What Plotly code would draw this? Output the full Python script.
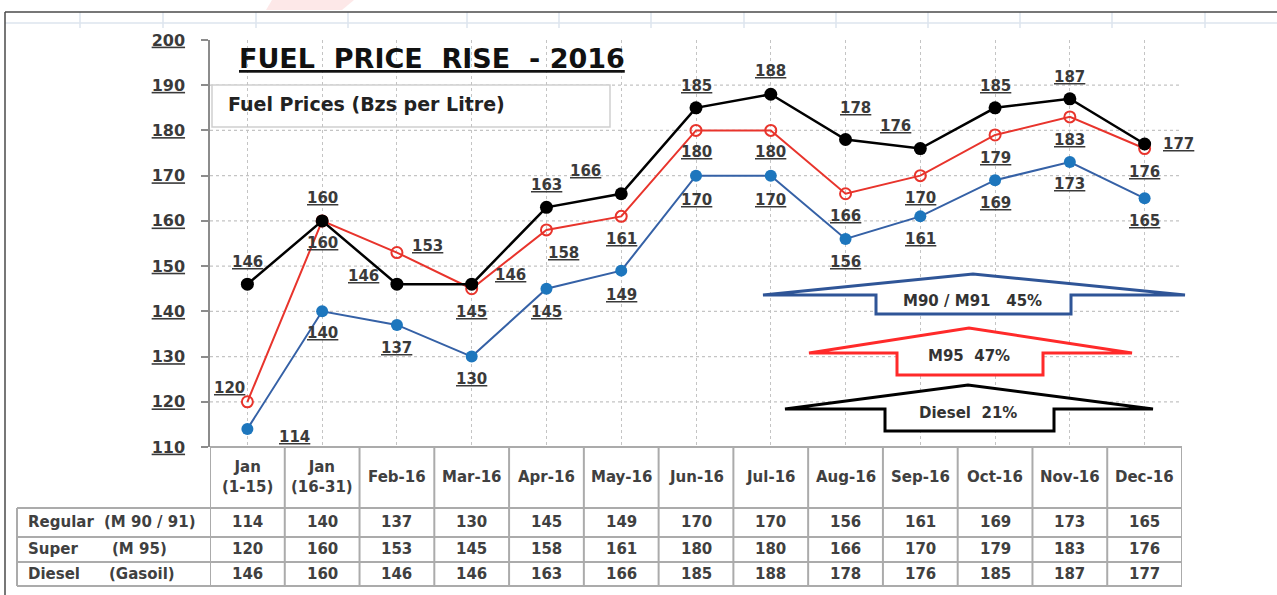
import plotly.graph_objects as go

# ---------------- data ----------------
categories = ["Jan<br>(1-15)", "Jan<br>(16-31)", "Feb-16", "Mar-16", "Apr-16", "May-16",
              "Jun-16", "Jul-16", "Aug-16", "Sep-16", "Oct-16", "Nov-16", "Dec-16"]
regular = [114, 140, 137, 130, 145, 149, 170, 170, 156, 161, 169, 173, 165]
super95 = [120, 160, 153, 145, 158, 161, 180, 180, 166, 170, 179, 183, 176]
diesel = [146, 160, 146, 146, 163, 166, 185, 188, 178, 176, 185, 187, 177]
series_names = ["Regular", "Super", "Diesel"]
series_codes = ["(M 90 / 91)", "(M 95)", "(Gasoil)"]
y_ticks = [110, 120, 130, 140, 150, 160, 170, 180, 190, 200]
title_text = "FUEL  PRICE  RISE  - 2016"
subtitle_text = "Fuel Prices (Bzs per Litre)"
rise_labels = ["M90 / M91   45%", "M95  47%", "Diesel  21%"]

# ---------------- label offsets (pixels: dx right, dy down) ----------------
off_regular = [(47, 8), (0, 22), (0, 23), (0, 22), (0, 23), (0, 24), (0, 24),
               (0, 24), (0, 23), (0, 23), (0, 23), (0, 22), (0, 23)]
off_super = [(-18, -14), (0, 22), (31, -7), (0, 23), (17, 23), (0, 23), (0, 22),
             (0, 22), (0, 22), (0, 22), (0, 23), (0, 23), (0, 23)]
off_diesel = [(0, -22), (0, -23), (-33, -8), (39, -9), (0, -22), (-36, -23), (0, -22),
              (0, -23), (10, -31), (-25, -23), (0, -22), (0, -22), (34, 0)]

FONT = "DejaVu Sans"
W, H = 1277, 595
L, R, T, B = 210, 1182, 40, 447


def px(xp):
    return (xp - L) / (R - L)


def py(yp):
    return (B - yp) / (B - T)


xs = list(range(len(categories)))

fig = go.Figure()
fig.add_trace(go.Scatter(x=xs, y=regular, mode="lines+markers", name=series_names[0],
                         line=dict(color="#3561a6", width=2),
                         marker=dict(color="#1d76bd", size=12)))
fig.add_trace(go.Scatter(x=xs, y=super95, mode="lines+markers", name=series_names[1],
                         line=dict(color="#e8342c", width=2),
                         marker=dict(symbol="circle-open", color="#e8342c", size=11,
                                     line=dict(width=2, color="#e8342c"))))
fig.add_trace(go.Scatter(x=xs, y=diesel, mode="lines+markers", name=series_names[2],
                         line=dict(color="#000000", width=2.5),
                         marker=dict(color="#000000", size=13)))

annotations = []
label_font = dict(family=FONT, size=15, color="#3a3a3a")
for vals, offs in ((regular, off_regular), (super95, off_super), (diesel, off_diesel)):
    for i, (v, (dx, dy)) in enumerate(zip(vals, offs)):
        annotations.append(dict(x=i, y=v, xref="x", yref="y", text=f"<b><u>{v}</u></b>",
                                showarrow=False, xshift=dx, yshift=-dy, font=label_font,
                                xanchor="center", yanchor="middle"))


def note(xp, yp, text, font, xanchor="center"):
    return dict(x=px(xp), y=py(yp), xref="paper", yref="paper", xanchor=xanchor,
                yanchor="middle", text=text, showarrow=False, font=font)


# title and subtitle
annotations.append(note(237, 58, f"<b><u>{title_text}</u></b>",
                        dict(family=FONT, size=27, color="#111111"), "left"))
annotations.append(note(226, 104, f"<b>{subtitle_text}</b>",
                        dict(family=FONT, size=19, color="#222222"), "left"))

# rise arrows texts
rise_pos = [(972, 301), (969, 356), (968, 413)]
for txt, (xp, yp) in zip(rise_labels, rise_pos):
    annotations.append(note(xp, yp, f"<b>{txt}</b>", dict(family=FONT, size=15, color="#333333")))

# table texts
tfont = dict(family=FONT, size=15, color="#404040")
for i, c in enumerate(categories):
    annotations.append(dict(x=i, y=py(477), xref="x", yref="paper", text=f"<b>{c}</b>",
                            showarrow=False, font=tfont, xanchor="center", yanchor="middle"))
row_centers = [522, 549, 574]
code_left = [102, 110, 107]
for r, vals in enumerate((regular, super95, diesel)):
    annotations.append(note(26, row_centers[r], f"<b>{series_names[r]}</b>", tfont, "left"))
    annotations.append(note(code_left[r], row_centers[r], f"<b>{series_codes[r]}</b>", tfont, "left"))
    for i, v in enumerate(vals):
        annotations.append(dict(x=i, y=py(row_centers[r]), xref="x", yref="paper",
                                text=f"<b>{v}</b>", showarrow=False, font=tfont,
                                xanchor="center", yanchor="middle"))

shapes = []
# outer sheet frame and faint cell lines
cell_col = "#dde4ee"
shapes.append(dict(type="line", xref="paper", yref="paper", x0=px(5), x1=px(1277),
                   y0=py(23), y1=py(23), line=dict(color=cell_col, width=1.5)))
for xv in [80, 163, 256, 348, 467, 559, 651, 744, 836, 928, 1020, 1112, 1205]:
    shapes.append(dict(type="line", xref="paper", yref="paper", x0=px(xv), x1=px(xv),
                       y0=py(12), y1=py(28), line=dict(color=cell_col, width=1.5)))
shapes.append(dict(type="path", xref="paper", yref="paper",
                   path=f"M {px(272)},{py(0)} L {px(354)},{py(0)} L {px(342)},{py(10)} L {px(266)},{py(10)} Z",
                   fillcolor="rgba(250,190,190,0.35)", line=dict(width=0)))
shapes.append(dict(type="line", xref="paper", yref="paper", x0=px(5), x1=px(1277),
                   y0=py(12), y1=py(12), line=dict(color="#4a4a4a", width=1.5)))
shapes.append(dict(type="line", xref="paper", yref="paper", x0=px(5), x1=px(5),
                   y0=py(12), y1=py(595), line=dict(color="#4a4a4a", width=1.5)))

# horizontal dotted gridlines (none at the top value)
for v in y_ticks[1:-1]:
    shapes.append(dict(type="line", xref="paper", yref="y", x0=0, x1=1, y0=v, y1=v,
                       layer="below", line=dict(color="#c4c4c4", width=1.3, dash="dot")))

# subtitle box
shapes.append(dict(type="rect", xref="paper", yref="paper", x0=px(212), x1=px(610),
                   y0=py(85), y1=py(127), line=dict(color="#cfcfcf", width=1.5),
                   fillcolor="white", layer="below"))

# rise arrows
arrow_geo = [
    dict(lt=763, ap=(973, 274), rt=1185, wy=295, bl=876, br=1071, bb=314, col="#2f5597"),
    dict(lt=809, ap=(969, 328), rt=1132, wy=353, bl=897, br=1043, bb=375, col="#ff2a2a"),
    dict(lt=785, ap=(968, 385), rt=1153, wy=409, bl=885, br=1054, bb=431, col="#000000"),
]
for g in arrow_geo:
    pts = [(g["lt"], g["wy"]), g["ap"], (g["rt"], g["wy"]), (g["br"], g["wy"]),
           (g["br"], g["bb"]), (g["bl"], g["bb"]), (g["bl"], g["wy"])]
    path = "M " + " L ".join(f"{px(a)},{py(b)}" for a, b in pts) + " Z"
    shapes.append(dict(type="path", xref="paper", yref="paper", path=path,
                       fillcolor="white", line=dict(color=g["col"], width=3)))

# table grid
tcol = "#ababab"
n = len(categories)
for yv, x0 in [(447, 210), (508, 17), (537, 17), (562, 17), (586, 17)]:
    shapes.append(dict(type="line", xref="paper", yref="paper", x0=px(x0), x1=px(R),
                       y0=py(yv), y1=py(yv), line=dict(color=tcol, width=2)))
shapes.append(dict(type="line", xref="paper", yref="paper", x0=px(17), x1=px(17),
                   y0=py(508), y1=py(586), line=dict(color=tcol, width=2)))
for k in range(n + 1):
    shapes.append(dict(type="line", xref="x", yref="paper", x0=k - 0.5, x1=k - 0.5,
                       y0=py(447), y1=py(586), line=dict(color=tcol, width=2)))

fig.update_layout(
    width=W, height=H, autosize=False,
    margin=dict(l=L, r=W - R, t=T, b=H - B, pad=0),
    paper_bgcolor="white", plot_bgcolor="white",
    showlegend=False,
    annotations=annotations, shapes=shapes,
    font=dict(family=FONT),
)
fig.update_xaxes(range=[-0.5, n - 0.5], tickvals=xs, showticklabels=False, ticks="",
                 showgrid=True, gridcolor="#c4c4c4", griddash="dot", gridwidth=1.3,
                 zeroline=False, showline=False, fixedrange=True)
fig.update_yaxes(range=[110, 200], tickvals=y_ticks,
                 ticktext=[f"<b><u>{t}</u></b>" for t in y_ticks],
                 tickfont=dict(family=FONT, size=16, color="#3a3a3a"),
                 ticks="outside", ticklen=7, tickcolor="#8c8c8c", tickwidth=1.5,
                 ticklabelstandoff=13,
                 showgrid=False,
                 zeroline=False, showline=True, linecolor="#8c8c8c", linewidth=1.5,
                 fixedrange=True)

fig.write_html("out.html", config={"displayModeBar": False},
               post_script="document.body.style.margin='0';document.body.style.padding='0';")
